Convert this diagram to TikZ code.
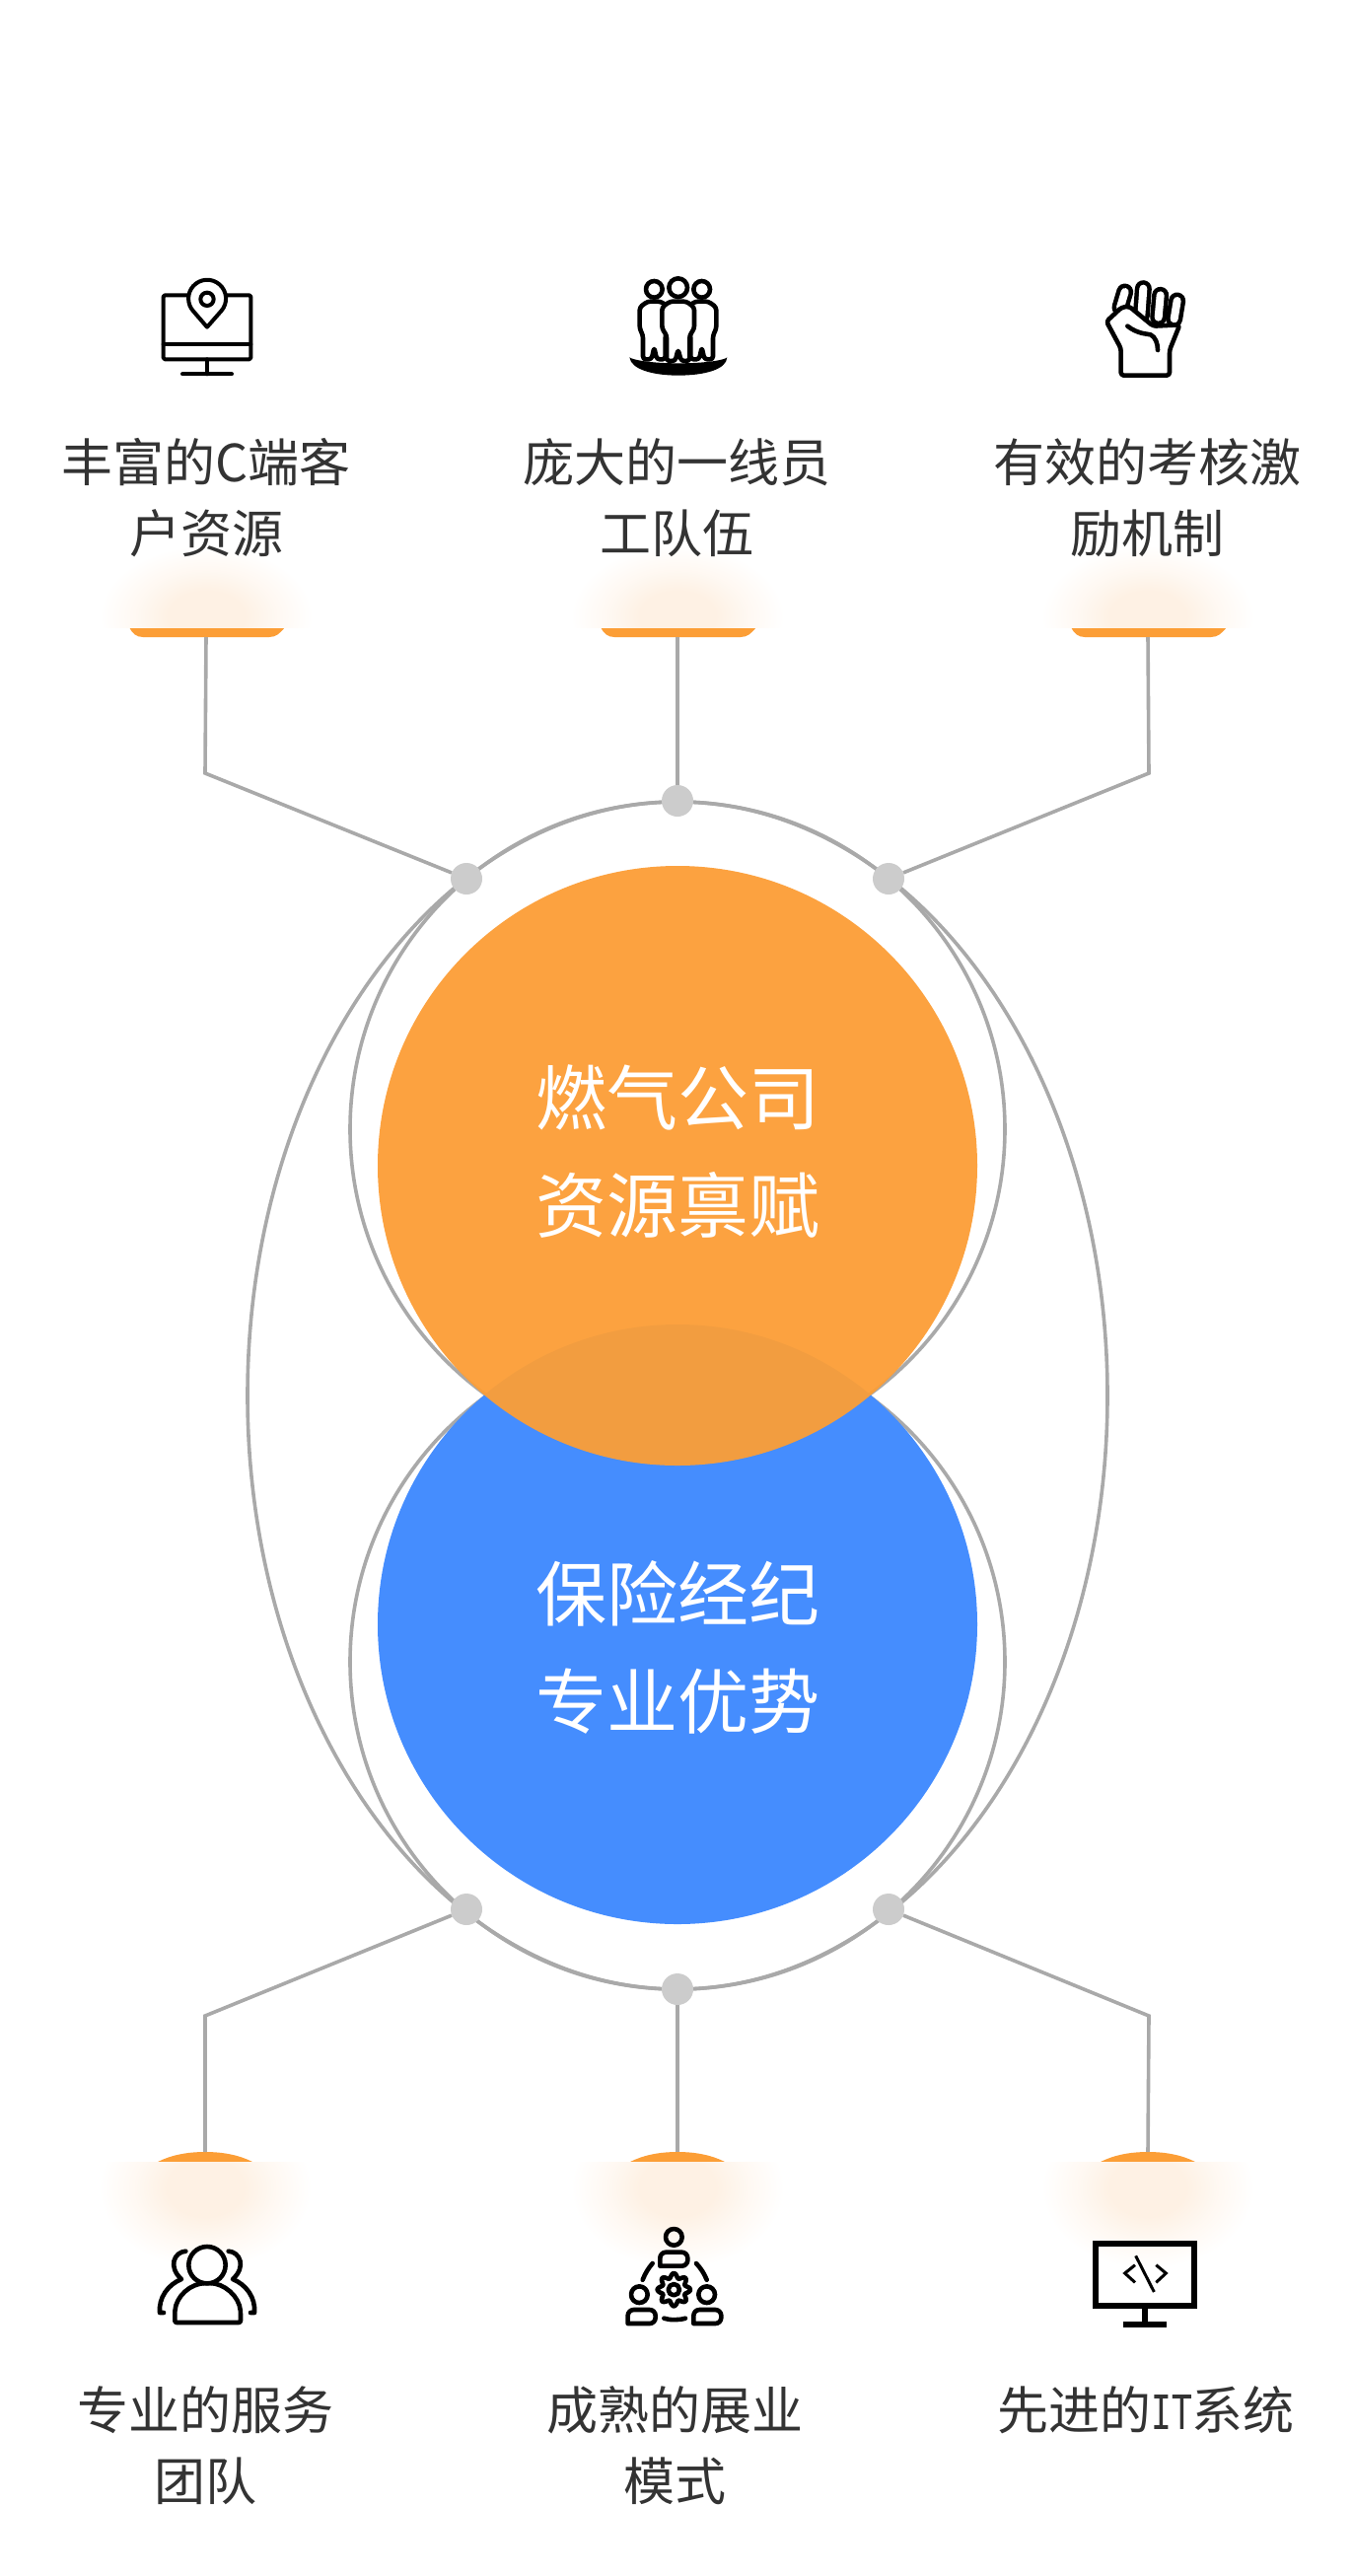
\documentclass[tikz,border=0pt]{standalone}
\usepackage{fontspec}
\setmainfont{Noto Sans CJK SC}
\newfontfamily\itfont[FakeStretch=0.72]{DejaVu Sans Mono}
\usetikzlibrary{positioning}
\definecolor{barorange}{HTML}{FC9E36}
\definecolor{glowtint}{HTML}{FEF1E4}
\definecolor{ballblue}{HTML}{458DFE}
\definecolor{linegray}{HTML}{A9A9A9}
\definecolor{dotgray}{HTML}{CCCCCC}
\definecolor{labelgray}{HTML}{333333}
\pgfdeclareradialshading{glowfade}{\pgfpointorigin}{color(0bp)=(glowtint); color(9bp)=(glowtint); color(16bp)=(glowtint!50!white); color(25bp)=(white); color(50bp)=(white)}
\tikzset{
  link/.style={draw=linegray,line width=3.6pt},
  ring/.style={draw=linegray,line width=3.6pt},
  joint/.style={circle,fill=dotgray,minimum size=32pt,inner sep=0pt},
  ball/.style={circle,minimum size=608pt,inner sep=0pt},
  balltext/.style={text=white,align=center,inner sep=0pt,font=\fontsize{72}{109}\selectfont},
  caption/.style={anchor=north,text=labelgray,align=center,inner sep=0pt,font=\fontsize{52}{72}\selectfont},
  icon/.style={draw=black,line width=4.6pt,line join=round,line cap=round},
}
\begin{document}
\begin{tikzpicture}[x=1pt,y=-1pt]
\useasboundingbox (0,0) rectangle (1372,2612);
\fill[white] (0,0) rectangle (1372,2612);
% the outline rings
\draw[ring] (687,1415) ellipse [x radius=436pt,y radius=602pt];
\draw[ring] (687,1145) circle [radius=332pt];
\draw[ring] (687,1685) circle [radius=332pt];
% the two balls
\node[ball,fill=ballblue] (insure) at (687,1647) {};
\node[ball,fill=barorange,fill opacity=.95] (gas) at (687,1182) {};
\node[balltext] (gastext) at (687,1168) {燃气公司\\资源禀赋};
\node[balltext] (insuretext) at (687,1670) {保险经纪\\专业优势};
% the joints on the rings
\node[joint] (jointtl) at (473,891) {};
\node[joint] (jointtc) at (687,812) {};
\node[joint] (jointtr) at (901,891) {};
\node[joint] (jointbl) at (473,1936) {};
\node[joint] (jointbc) at (687,2017) {};
\node[joint] (jointbr) at (901,1936) {};
% the bars and their glow, upper row
\foreach \x/\n in {209/tl,687/tc,1164/tr} {
  \coordinate (bar\n) at (\x,646);
  \fill[barorange] (\x-78,636) .. controls (\x-75,642) and (\x-71,646) .. (\x-64,646) -- (\x+64,646) .. controls (\x+71,646) and (\x+75,642) .. (\x+80,636) -- cycle;
  \begin{scope}
    \clip (\x-140,540) rectangle (\x+140,636);
    \fill[shading=glowfade] (\x-108,553) rectangle (\x+108,697);
  \end{scope}
}
% the caps and their glow, lower row
\foreach \x/\n in {208/bl,687/bc,1164/br} {
  \coordinate (cap\n) at (\x,2182);
  \fill[barorange] (\x-48,2192) .. controls (\x-34,2185) and (\x-18,2182) .. (\x,2182) .. controls (\x+18,2182) and (\x+34,2185) .. (\x+48,2192) -- cycle;
  \begin{scope}
    \clip (\x-140,2192) rectangle (\x+140,2320);
    \fill[shading=glowfade] (\x-108,2136) rectangle (\x+108,2300);
  \end{scope}
}
% the connectors
\coordinate (kneetl) at (208,784);
\coordinate (kneetr) at (1165,784);
\coordinate (kneebl) at (208,2044);
\coordinate (kneebr) at (1165,2044);
\draw[link] (bartl) -- (kneetl) -- (jointtl);
\draw[link] (bartc) -- (jointtc);
\draw[link] (bartr) -- (kneetr) -- (jointtr);
\draw[link] (capbl) -- (kneebl) -- (jointbl);
\draw[link] (capbc) -- (jointbc);
\draw[link] (capbr) -- (kneebr) -- (jointbr);
% the captions
\node[caption] (captl) at (209,444) {丰富的C端客\\户资源};
\node[caption] (captc) at (686,444) {庞大的一线员\\工队伍};
\node[caption] (captr) at (1163,444) {有效的考核激\\励机制};
\node[caption] (capcbl) at (208,2419) {专业的服务\\团队};
\node[caption] (capcbc) at (684,2419) {成熟的展业\\模式};
\node[caption] (capcbr) at (1162,2419) {先进的{\itfont\fontsize{48}{72}\selectfont IT}系统};
% monitor with a pin
\begin{scope}[shift={(140,270)},scale=1/3]
  \draw[icon,line width=4pt,rounded corners=1.5pt] (77,88) rectangle (343,283);
  \draw[icon,line width=4pt] (77,238) -- (343,238);
  \draw[icon,line width=4pt] (210,283) -- (210,328) (135,328) -- (285,328);
  \draw[icon,line width=4pt,fill=white] (210,185) -- (253,136) arc [start angle=-41.5,end angle=221.5,radius=57pt] -- cycle;
  \draw[icon,line width=4pt] (210,100) circle [radius=20];
\end{scope}
% three people on a base
\begin{scope}[shift={(620,265)},scale=1/3]
  \fill (55,292) .. controls (60,330) and (130,347) .. (203,347) .. controls (280,347) and (350,330) .. (352,292) .. controls (345,300) and (290,310) .. (203,310) .. controls (120,310) and (65,300) .. (55,292) -- cycle;
  \foreach \x in {130,275} {
    \draw[icon] (\x,85) circle [radius=25];
    \draw[icon,fill=white,rounded corners=3pt] (\x-20,122) -- (\x+20,122) -- (\x+44,140) -- (\x+44,205) -- (\x+34,225) -- (\x+34,298) -- (\x+8,298) -- (\x,262) -- (\x-8,298) -- (\x-34,298) -- (\x-34,225) -- (\x-44,205) -- (\x-44,140) -- cycle;
  }
  \draw[icon] (203,80) circle [radius=28];
  \draw[icon,fill=white,rounded corners=3pt] (178,122) -- (228,122) -- (252,140) -- (252,205) -- (238,225) -- (238,303) -- (212,303) -- (203,268) -- (194,303) -- (168,303) -- (168,225) -- (154,205) -- (154,140) -- cycle;
\end{scope}
% a fist
\begin{scope}[shift={(1100,270)},scale=1/3]
  \foreach \xa/\ya/\xb/\yb in {122/78/108/125,178/68/172/150,230/88/224/155,281/105/272/160} {
    \draw[line width=17pt,line cap=round] (\xa,\ya) -- (\xb,\yb);
    \draw[white,line width=8pt,line cap=round] (\xa,\ya) -- (\xb,\yb);
  }
  \draw[icon,fill=white,rounded corners=3pt] (66,168) -- (112,125) -- (135,122) -- (208,182) -- (289,178) -- (258,255) -- (258,332) -- (110,332) -- (110,250) -- cycle;
  \draw[icon] (130,182) .. controls (160,205) and (185,205) .. (200,208) .. controls (215,215) and (222,235) .. (222,255);
\end{scope}
% a person with two shadows
\begin{scope}[shift={(140,2250)},scale=1/3]
  \draw[icon] (145,98) .. controls (110,100) and (90,145) .. (132,183) .. controls (90,200) and (62,240) .. (66,285) -- (78,285);
  \draw[icon] (275,98) .. controls (310,100) and (330,145) .. (288,183) .. controls (330,200) and (358,240) .. (354,285) -- (342,285);
  \draw[icon,fill=white,rounded corners=2pt] (112,315) -- (112,285) .. controls (115,235) and (160,195) .. (212,195) .. controls (262,195) and (308,235) .. (312,285) -- (312,315) -- cycle;
  \draw[icon,fill=white] (210,140) circle [radius=56];
\end{scope}
% three people around a gear
\begin{scope}[shift={(620,2250)},scale=1/3]
  \foreach \x/\y in {190/55,85/230,290/230}
    \draw[icon] (\x,\y) circle [radius=25];
  \foreach \x/\y in {190/143,92/318,292/318}
    \draw[icon] (\x-42,\y) [rounded corners=6pt] -- (\x-42,\y-42) -- (\x+42,\y-42) -- (\x+42,\y) [sharp corners] -- cycle;
  \draw[icon] (95,185) .. controls (103,165) and (112,150) .. (125,135);
  \draw[icon] (290,185) .. controls (282,165) and (272,150) .. (258,135);
  \draw[icon] (160,302) .. controls (178,308) and (205,308) .. (225,302);
  \begin{scope}[shift={(190,215)}]
    \draw[icon] plot[domain=0:360,samples=97,smooth] ({\x}:{43+7*cos(8*\x)}) -- cycle;
    \draw[icon] (0,0) circle [radius=17];
  \end{scope}
\end{scope}
% monitor with code
\begin{scope}[shift={(1090,2255)},scale=1/3]
  \draw[line width=6pt] (62,61) rectangle (364,249);
  \draw[line width=5.3pt] (213,258) -- (213,297);
  \draw[line width=6pt] (148,306) -- (280,306);
  \draw[line width=3pt] (183,125) -- (152,150) -- (183,178) (247,125) -- (277,150) -- (247,178) (185,97) -- (241,207);
\end{scope}
\end{tikzpicture}
\end{document}
